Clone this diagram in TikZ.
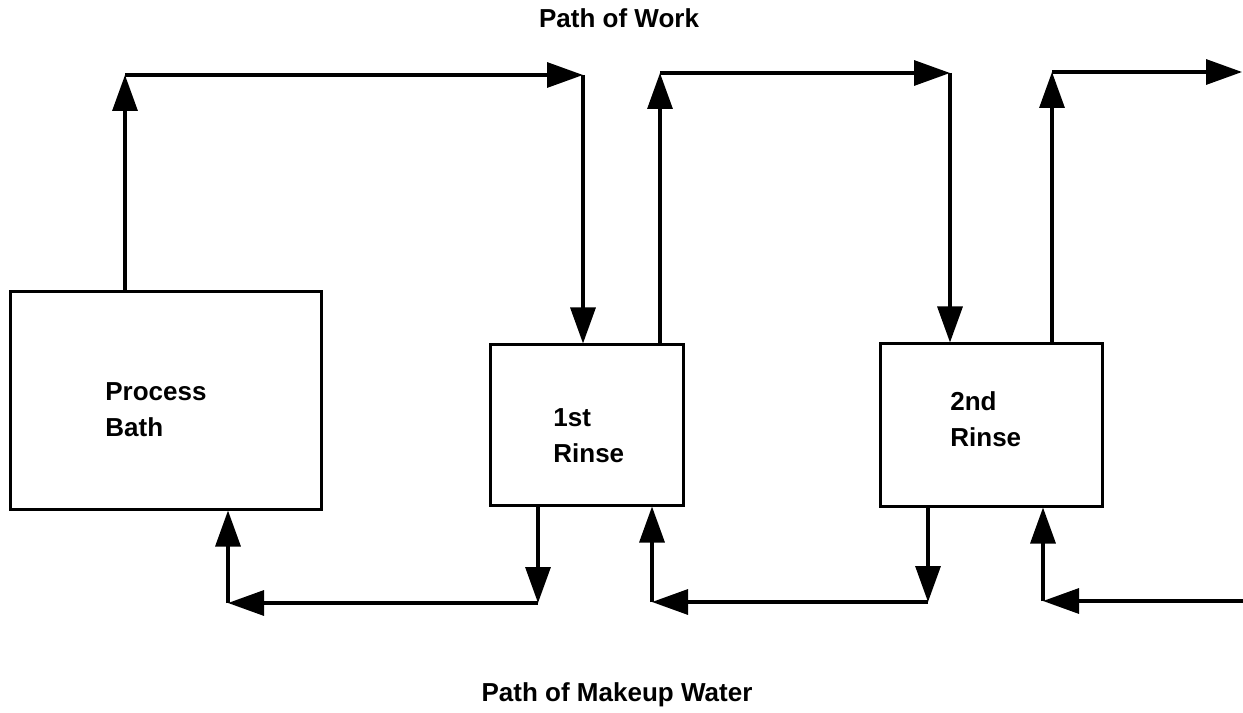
\documentclass[tikz,border=0pt]{standalone}
\usepackage{fontspec}
\setmainfont{Liberation Sans}
\usetikzlibrary{arrows.meta,positioning}

\begin{document}
\begin{tikzpicture}
[x=0.2mm,y=-0.2mm,
 every node/.style={font=\fontsize{14.8}{20.5}\selectfont\bfseries},
 tank/.style={draw=black,line width=0.6mm,inner sep=0mm},
 tag/.style={anchor=west,align=left,inner sep=0mm},
 flow/.style={line width=0.65mm,-{Triangle[length=7.2mm,width=5mm]}}]
\useasboundingbox (0,0) rectangle (1243,713);
\node[tank,minimum width=62mm,minimum height=43.4mm] (pb) at (166,400.5) {};
\node[tank,minimum width=38.6mm,minimum height=32mm] (r1) [on grid,below right=4.9mm and 84.1mm of pb] {};
\node[tank,minimum width=44.4mm,minimum height=32.4mm] (r2) [on grid,right=80.9mm of r1] {};
\node[tag] (pbname) at (105,410) {Process\\Bath};
\node[tag] (r1name) at (553,436) {1st\\Rinse};
\node[tag] (r2name) at (950,419) {2nd\\Rinse};
\node (work)  at (619,18)  {Path of Work};
\node (water) at (617,695) {Path of Makeup Water};
% path of work
\coordinate (w1) at (125,75);
\coordinate (w2) at (583,75);
\coordinate (w3) at (660,73);
\coordinate (w4) at (950,73);
\coordinate (w5) at (1052,72);
\coordinate (w6) at (1242,72);
\draw[flow] (pb.north -| w1) -- (w1);
\draw[flow] (w1) -- (w2);
\draw[flow] (w2) -- (r1.north -| w2);
\draw[flow] (r1.north -| w3) -- (w3);
\draw[flow] (w3) -- (w4);
\draw[flow] (w4) -- (r2.north -| w4);
\draw[flow] (r2.north -| w5) -- (w5);
\draw[flow] (w5) -- (w6);
% path of makeup water
\coordinate (m1) at (538,603);
\coordinate (m2) at (228,603);
\coordinate (m3) at (928,602);
\coordinate (m4) at (652,602);
\coordinate (m5) at (1243,601);
\coordinate (m6) at (1043,601);
\draw[flow] (r1.south -| m1) -- (m1);
\draw[flow] (m1) -- (m2);
\draw[flow] (m2) -- (pb.south -| m2);
\draw[flow] (r2.south -| m3) -- (m3);
\draw[flow] (m3) -- (m4);
\draw[flow] (m4) -- (r1.south -| m4);
\draw[flow] (m5) -- (m6);
\draw[flow] (m6) -- (r2.south -| m6);
\end{tikzpicture}
\end{document}
